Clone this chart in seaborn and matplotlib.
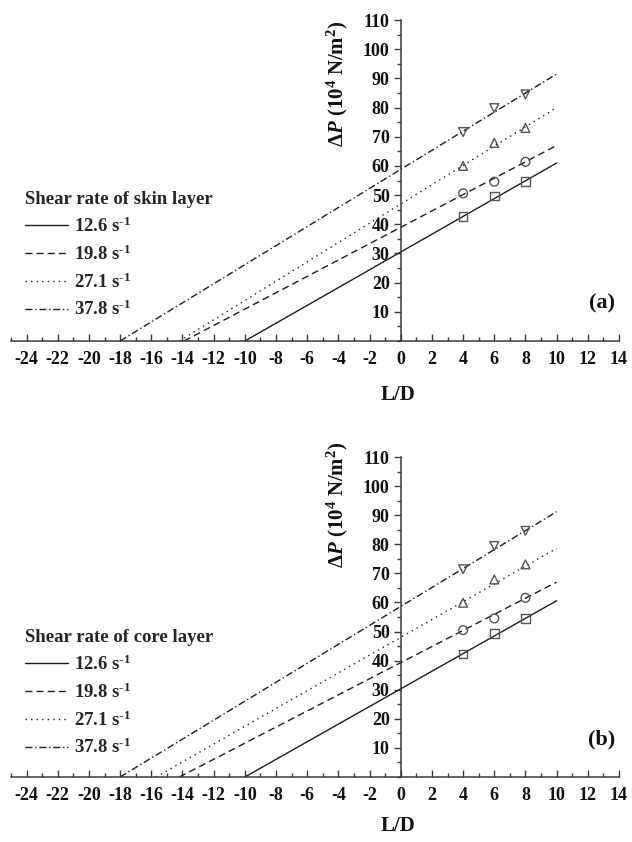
import numpy as np
import pandas as pd
import matplotlib
matplotlib.use("Agg")
import matplotlib.pyplot as plt
import seaborn as sns
from matplotlib.lines import Line2D
from matplotlib.ticker import MultipleLocator

# Shear rates (s^-1) and measured L/D positions
rates = ["12.6", "19.8", "27.1", "37.8"]
ld_points = [4, 6, 8]

# Skin layer: measured pressure drop (10^4 N/m^2) at L/D = 4, 6, 8
skin_dp = [
    [42.6, 49.7, 54.6],
    [50.6, 54.6, 61.4],
    [60.0, 67.9, 73.0],
    [71.6, 79.8, 84.5],
]
# Skin layer Bagley lines: L/D intercept at dP = 0 and dP at L/D = 10
skin_x0 = [-10.0, -13.9, -14.2, -18.0]
skin_end = [61.0, 67.0, 80.0, 91.5]

# Core layer: measured pressure drop at L/D = 4, 6, 8
core_dp = [
    [42.3, 49.4, 54.5],
    [50.5, 54.5, 61.6],
    [59.9, 67.9, 73.1],
    [71.4, 79.4, 84.6],
]
core_x0 = [-10.0, -14.2, -15.7, -18.0]
core_end = [60.6, 67.0, 78.6, 91.2]

line_end_ld = 10

dash_map = {"12.6": "", "19.8": (5, 3), "27.1": (1, 3), "37.8": (5, 2, 1, 2)}
marker_map = {"12.6": "s", "19.8": "o", "27.1": "^", "37.8": "v"}

sns.set_theme(style="white")
plt.rcParams["font.family"] = ["Liberation Serif", "DejaVu Serif"]
plt.rcParams["font.weight"] = "bold"
plt.rcParams["axes.unicode_minus"] = False
plt.rcParams["mathtext.fontset"] = "custom"
plt.rcParams["mathtext.rm"] = "Liberation Serif:bold"
plt.rcParams["mathtext.bf"] = "Liberation Serif:bold"
plt.rcParams["mathtext.it"] = "Liberation Serif:italic:bold"
plt.rcParams["mathtext.default"] = "rm"

LINE_C = "#1e1e1e"
MARK_C = "#555555"
AXIS_C = "#3a3a3a"


def draw_panel(ax, x0s, ends, dps, legend_title, tag, ylab_y, xlab_y, leg_anchor):
    line_rows = []
    for r, x0, e in zip(rates, x0s, ends):
        line_rows.append({"L/D": x0, "dP": 0.0, "rate": r})
        line_rows.append({"L/D": line_end_ld, "dP": e, "rate": r})
    df_lines = pd.DataFrame(line_rows)

    pt_rows = []
    for r, vals in zip(rates, dps):
        for x, v in zip(ld_points, vals):
            pt_rows.append({"L/D": x, "dP": v, "rate": r})
    df_pts = pd.DataFrame(pt_rows)

    sns.lineplot(data=df_lines, x="L/D", y="dP", hue="rate", style="rate",
                 palette={r: LINE_C for r in rates}, dashes=dash_map,
                 estimator=None, sort=False, linewidth=1.0, legend=False, ax=ax)
    n_before = len(ax.collections)
    sns.scatterplot(data=df_pts, x="L/D", y="dP", style="rate", markers=marker_map,
                    color=MARK_C, s=40, linewidth=1.0, legend=False, ax=ax, zorder=3)
    for coll in ax.collections[n_before:]:
        coll.set_facecolor("none")
        coll.set_edgecolor(MARK_C)

    ax.set_xlim(-25, 14)
    ax.set_ylim(0, 110)
    ax.spines["left"].set_position(("data", 0))
    ax.spines["top"].set_visible(False)
    ax.spines["right"].set_visible(False)
    for s in ("left", "bottom"):
        ax.spines[s].set_color(AXIS_C)
        ax.spines[s].set_linewidth(1.1)

    ax.set_xticks(np.arange(-24, 15, 2))
    ax.xaxis.set_minor_locator(MultipleLocator(1))
    ax.set_yticks(np.arange(10, 111, 10))
    ax.yaxis.set_minor_locator(MultipleLocator(5))
    ax.tick_params(axis="x", which="both", bottom=True, direction="in", colors=AXIS_C,
                   labelcolor="#111111", labelsize=13, pad=7, width=1.0)
    ax.tick_params(axis="x", which="major", length=5)
    ax.tick_params(axis="x", which="minor", length=3)
    ax.tick_params(axis="y", which="both", left=True, direction="out", colors=AXIS_C,
                   labelcolor="#111111", labelsize=13, pad=3, width=1.0)
    ax.tick_params(axis="y", which="major", length=5)
    ax.tick_params(axis="y", which="minor", length=3)
    for lab in ax.get_xticklabels() + ax.get_yticklabels():
        lab.set_fontweight("bold")

    ax.set_xlabel("L/D", fontsize=15, fontweight="bold", color="#111111")
    ax.xaxis.set_label_coords(0.637, xlab_y)
    ax.set_ylabel(r"$\mathit{\Delta P}$ (10$^4$ N/m$^2$)", fontsize=15,
                  fontweight="bold", color="#111111")
    ax.yaxis.set_label_coords(0.558, ylab_y)

    handles = [Line2D([], [], color=LINE_C, lw=1.0,
                      linestyle="-" if dash_map[r] == "" else (0, dash_map[r]))
               for r in rates]
    labels = [rf"{r} s$^{{\text{{-}}1}}$" for r in rates]
    leg = ax.legend(handles, labels, title=legend_title, loc="upper left",
                    bbox_to_anchor=leg_anchor, bbox_transform=ax.figure.transFigure,
                    frameon=False, alignment="left", borderpad=0, borderaxespad=0,
                    handlelength=2.3, handletextpad=0.3, labelspacing=0.45,
                    fontsize=13.5, title_fontsize=13.5)
    leg.get_title().set_fontweight("bold")
    for t in leg.get_texts():
        t.set_fontweight("bold")

    ax.text(0.972, 0.118, tag, transform=ax.transAxes, fontsize=16,
            fontweight="bold", ha="center", va="center", color="#111111")


W, H = 632, 842
fig = plt.figure(figsize=(W / 100, H / 100), dpi=100)
ax_a = fig.add_axes([11 / W, 501 / H, 608 / W, 321 / H])
ax_b = fig.add_axes([11 / W, 65 / H, 608 / W, 320 / H])

draw_panel(ax_a, skin_x0, skin_end, skin_dp, "Shear rate of skin layer", "(a)",
           0.80, -0.137, (25 / W, (H - 191) / H))
draw_panel(ax_b, core_x0, core_end, core_dp, "Shear rate of core layer", "(b)",
           0.85, -0.122, (25 / W, (H - 629) / H))

fig.savefig("out.png", dpi=100, facecolor="white")
